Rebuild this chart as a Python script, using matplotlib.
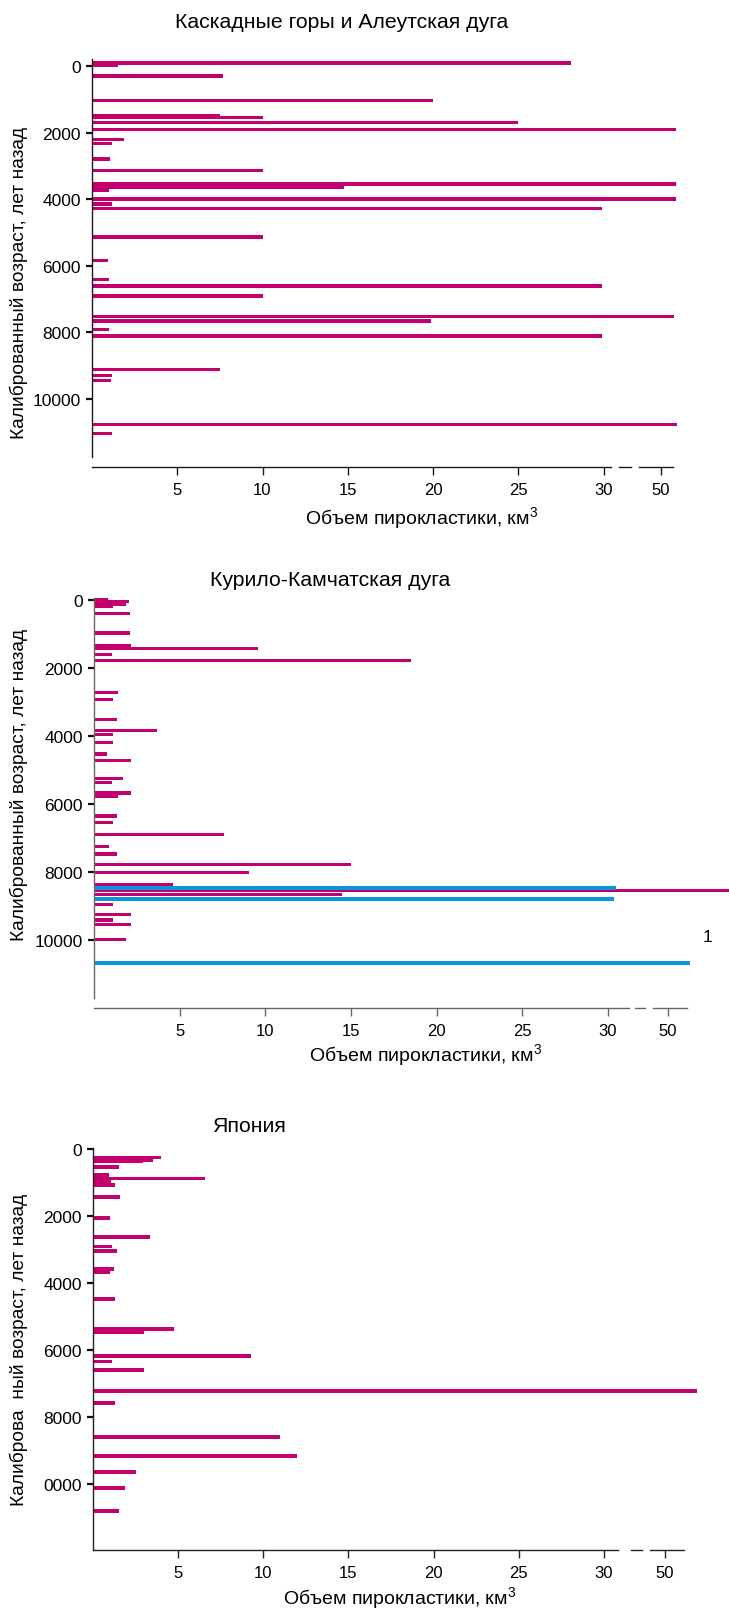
import numpy as np
import matplotlib
matplotlib.use("Agg")
import matplotlib.pyplot as plt
from matplotlib import transforms
from matplotlib.lines import Line2D

plt.rcParams["font.family"] = ["Liberation Sans", "DejaVu Sans"]
plt.rcParams["mathtext.fontset"] = "custom"
plt.rcParams["mathtext.rm"] = "Liberation Sans"
plt.rcParams["mathtext.it"] = "Liberation Sans"

# Каскадные горы и Алеутская дуга: возраст (лет назад), объем (км3)
casc_age = [-90, -10, 300, 1040, 1490, 1540, 1690, 1910, 2200, 2320, 2800, 3140,
            3540, 3590, 3640, 3740, 4000, 4140, 4280, 5140, 5840, 6410, 6610,
            6900, 7530, 7660, 7910, 8110, 9120, 9300, 9440, 10760, 11040]
casc_vol = [28.1, 1.5, 7.7, 20, 7.5, 10, 25, 55.2, 1.85, 1.15, 1.05, 10,
            55.2, 3.4, 14.8, 1.0, 55.2, 1.15, 29.9, 10, 0.95, 1.0, 29.9,
            10, 54.3, 19.9, 1.0, 29.9, 7.5, 1.15, 1.1, 55.4, 1.15]

# Курило-Камчатская дуга
kur_age = [-20, 55, 125, 190, 400, 970, 1330, 1420, 1610, 1770, 2730, 2920,
           3525, 3840, 3945, 4180, 4530, 4710, 5250, 5370, 5675, 5770, 6350,
           6550, 6895, 7255, 7470, 7770, 8025, 8370, 8535, 8670, 8950, 9260,
           9410, 9545, 9975]
kur_vol = [0.8, 2.03, 1.86, 1.13, 2.13, 2.13, 2.15, 9.58, 1.06, 18.5, 1.41, 1.13,
           1.35, 3.7, 1.1, 1.1, 0.75, 2.15, 1.7, 1.05, 2.15, 1.4, 1.35,
           1.1, 7.6, 0.85, 1.35, 15, 9.05, 4.6, 75, 14.5, 1.1, 2.15,
           1.1, 2.15, 1.88]
kur_blue_age = [8470, 8790, 10670]
kur_blue_vol = [32.7, 32.2, 57.3]

# Япония
jap_age = [255, 325, 370, 540, 765, 880, 950, 1070, 1430, 2050, 2620, 2910,
           3040, 3570, 3665, 4490, 5380, 5460, 6185, 6345, 6590, 7215, 7570,
           8600, 9175, 9630, 10130, 10815]
jap_vol = [4.0, 3.5, 2.95, 1.5, 0.95, 6.55, 1.05, 1.3, 1.6, 1.0, 3.35, 1.1,
           1.4, 1.25, 1.0, 1.3, 4.75, 3.0, 9.25, 1.1, 3.0, 60.7, 1.3,
           11.0, 11.95, 2.5, 1.85, 1.5]

x_ticks = [5, 10, 15, 20, 25, 30, 50]
y_ticks = [0, 2000, 4000, 6000, 8000, 10000]

MAGENTA = "#c4006f"
BLUE = "#0a96d8"
W, H = 729, 1615
ylab = "Калиброванный возраст, лет назад"
xlab = "Объем пирокластики, км$^3$"

fig = plt.figure(figsize=(W / 100, H / 100), dpi=100)


def panel(cfg, series, ytl, ylabel_text):
    left, top, bot = cfg["left"], cfg["top"], cfg["bottom"]
    unit, k = cfg["unit"], cfg["k"]
    z0, ppk = cfg["zero"], cfg["ppk"]

    def fwd(v):
        v = np.asarray(v, dtype=float)
        return np.where(v <= 30, v, 30 + (v - 30) * k)

    def inv(p):
        p = np.asarray(p, dtype=float)
        return np.where(p <= 30, p, 30 + (p - 30) / k)

    def px2val(px):
        return float(inv((px - left) / unit))

    ax = fig.add_axes([left / W, 1 - bot / H, (W - left) / W, (bot - top) / H])
    ax.set_xscale("function", functions=(fwd, inv))
    ax.set_xlim(0, px2val(W))
    ax.set_ylim((bot - z0) / ppk * 1000, (top - z0) / ppk * 1000)

    for age, vol, color, h in series:
        ax.barh(age, vol, height=h, color=color, linewidth=0)

    col = cfg["axcolor"]
    for s in ["top", "right"]:
        ax.spines[s].set_visible(False)
    ax.spines["left"].set_color(col)
    ax.spines["left"].set_linewidth(1.0)
    ax.spines["bottom"].set_color(col)
    ax.spines["bottom"].set_linewidth(1.0)
    off = cfg["off"] * 0.72
    ax.spines["bottom"].set_position(("outward", off))
    segs = cfg["segs"]
    ax.spines["bottom"].set_bounds(0, px2val(segs[0][1]))
    tr = transforms.offset_copy(ax.get_xaxis_transform(), fig=fig,
                                y=-off, units="points")
    for a, b in segs[1:]:
        ax.add_line(Line2D([px2val(a), px2val(b)], [0, 0], color=col, lw=1.0,
                           transform=tr, clip_on=False))

    ax.set_xticks(x_ticks)
    ax.set_xticklabels([str(t) for t in x_ticks])
    ax.xaxis.set_minor_locator(matplotlib.ticker.NullLocator())
    ax.set_yticks(y_ticks)
    ax.set_yticklabels(ytl)
    ax.tick_params(axis="x", direction="out", length=6, width=1.0, color=col,
                   labelsize=12, pad=5)
    ax.tick_params(axis="y", direction="out", length=4, width=1.6, color="#111",
                   labelsize=12.5, pad=4)
    ax.patch.set_alpha(0)

    fig.text(cfg["title"][0] / W, 1 - cfg["title"][1] / H, cfg["title"][2],
             ha="center", va="center", fontsize=15.3)
    fig.text(cfg["xlab"][0] / W, 1 - cfg["xlab"][1] / H, xlab,
             ha="center", va="center", fontsize=14)
    fig.text(19 / W, 1 - cfg["ylab_y"] / H, ylabel_text, rotation=90,
             ha="center", va="center", fontsize=13.8)
    return ax


cfg1 = dict(left=92, top=60, bottom=458, unit=17.05, k=0.169, zero=67, ppk=33.3,
            off=10, axcolor="#1a1a1a",
            segs=[(92, 611), (619, 631), (639, 673)],
            title=(342, 23, "Каскадные горы и Алеутская дуга"),
            xlab=(422, 518), ylab_y=283)
cfg2 = dict(left=94, top=599, bottom=999, unit=17.13, k=0.175, zero=601, ppk=34.0,
            off=10, axcolor="#666666",
            segs=[(94, 629), (635, 645), (653, 687)],
            title=(330, 581, "Курило-Камчатская дуга"),
            xlab=(426, 1055), ylab_y=785)
cfg3 = dict(left=93, top=1149, bottom=1551, unit=17.03, k=0.179, zero=1150, ppk=33.5,
            off=0, axcolor="#222222",
            segs=[(93, 618), (631, 642), (650, 684)],
            title=(250, 1126, "Япония"),
            xlab=(400, 1598), ylab_y=1350)

panel(cfg1, [(casc_age, casc_vol, MAGENTA, 105)],
      [str(t) for t in y_ticks], ylab)
panel(cfg2, [(kur_age, kur_vol, MAGENTA, 95), (kur_blue_age, kur_blue_vol, BLUE, 110)],
      [str(t) for t in y_ticks], ylab)
panel(cfg3, [(jap_age, jap_vol, MAGENTA, 115)],
      ["0", "2000", "4000", "6000", "8000", "0000"],
      "Калиброва  ный возраст, лет назад")

fig.text(708 / W, 1 - 938 / H, "1", ha="center", va="center", fontsize=12.5)

fig.savefig("out.png", dpi=100)
